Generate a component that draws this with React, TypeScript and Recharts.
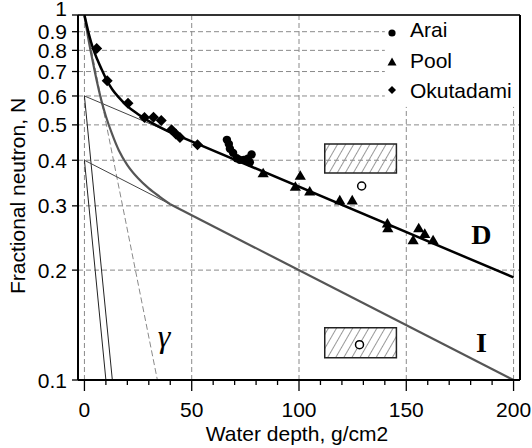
import React from 'react';
import {
  ComposedChart,
  Line,
  Scatter,
  XAxis,
  YAxis,
  ReferenceLine,
  ReferenceArea,
  ReferenceDot,
} from 'recharts';

const FONT = '"Liberation Sans", Arial, Helvetica, sans-serif';
const SERIF = '"Liberation Serif", "Times New Roman", serif';

// ---- axis ticks ----
const xMinorTicks = [0, 10, 20, 30, 40, 50, 60, 70, 80, 90, 100, 110, 120, 130, 140, 150, 160, 170, 180, 190, 200];
const xMajorTicks = [0, 50, 100, 150, 200];
const yTicks = [0.1, 0.2, 0.3, 0.4, 0.5, 0.6, 0.7, 0.8, 0.9, 1];
const xGridFull = [0, 50, 100];
const xGridShort = [150, 200];
const yGridFull = [0.2, 0.3, 0.4, 0.5];
const yGridShort = [0.6, 0.7, 0.8, 0.9];

// ---- measured data ----
const araiX = [66.4, 67.3, 67.8, 69.3, 71.0, 72.4, 74.3, 76.1, 77.1, 77.9];
const araiY = [0.455, 0.443, 0.430, 0.419, 0.405, 0.401, 0.401, 0.404, 0.395, 0.415];

const poolX = [83.3, 98.3, 100.6, 105.0, 119.0, 124.8, 141.2, 141.4, 153.2, 155.8, 158.6, 162.5];
const poolY = [0.368, 0.338, 0.362, 0.328, 0.310, 0.310, 0.268, 0.260, 0.241, 0.260, 0.251, 0.241];

const okuX = [5.7, 10.6, 20.3, 28.0, 32.2, 35.8, 40.6, 42.6, 44.5, 52.7];
const okuY = [0.81, 0.66, 0.573, 0.524, 0.525, 0.514, 0.485, 0.472, 0.462, 0.441];

// ---- curves (curved head + straight tail) ----
const dHeadX = [0, 2, 4, 6, 8, 10, 13, 16, 20, 25, 30, 40];
const dHeadY = [1, 0.89, 0.81, 0.755, 0.71, 0.67, 0.625, 0.595, 0.563, 0.535, 0.512, 0.477];
const dTailX = [40, 200];
const dTailY = [0.477, 0.191];

const iHeadX = [0, 2, 4, 6, 8, 10, 13, 16, 20, 25, 30, 35, 40];
const iHeadY = [1, 0.85, 0.74, 0.65, 0.58, 0.528, 0.47, 0.426, 0.388, 0.357, 0.335, 0.318, 0.303];
const iTailX = [40, 200];
const iTailY = [0.303, 0.1];

const dSlowX = [0, 40];
const dSlowY = [0.6, 0.477];
const iSlowX = [0, 40];
const iSlowY = [0.4, 0.303];
const dFastX = [0, 10];
const dFastY = [0.4, 0.1];
const iFastX = [0, 13];
const iFastY = [0.6, 0.1];
const gammaX = [0, 34];
const gammaY = [1, 0.1];

// ---- annotations ----
const boxUpper = { x1: 112, x2: 145.4, y1: 0.369, y2: 0.443 };
const boxLower = { x1: 112, x2: 145.4, y1: 0.115, y2: 0.139 };
const openPoints = [
  { x: 129.2, y: 0.34 },
  { x: 128.2, y: 0.125 },
];
const labelD = [{ x: 185, y: 0.236 }];
const labelI = [{ x: 185, y: 0.1193 }];
const labelGamma = [{ x: 37.1, y: 0.1231 }];

const legendNames = ['Arai', 'Pool', 'Okutadami'];

const zip = (xs: number[], ys: number[]) => xs.map((x, i) => ({ x, y: ys[i] }));

const araiData = zip(araiX, araiY);
const poolData = zip(poolX, poolY);
const okuData = zip(okuX, okuY);
const dHeadData = zip(dHeadX, dHeadY);
const dTailData = zip(dTailX, dTailY);
const iHeadData = zip(iHeadX, iHeadY);
const iTailData = zip(iTailX, iTailY);
const dSlowData = zip(dSlowX, dSlowY);
const iSlowData = zip(iSlowX, iSlowY);
const dFastData = zip(dFastX, dFastY);
const iFastData = zip(iFastX, iFastY);
const gammaData = zip(gammaX, gammaY);

const circleShape = (p: any) => <circle cx={p.cx} cy={p.cy} r={4.2} fill="#000" />;
const triShape = (p: any) => (
  <polygon
    points={`${p.cx},${p.cy - 5.8} ${p.cx - 5.6},${p.cy + 3.8} ${p.cx + 5.6},${p.cy + 3.8}`}
    fill="#000"
  />
);
const diamondShape = (p: any) => (
  <polygon
    points={`${p.cx},${p.cy - 5.5} ${p.cx + 5.5},${p.cy} ${p.cx},${p.cy + 5.5} ${p.cx - 5.5},${p.cy}`}
    fill="#000"
  />
);

const textShape = (txt: string, size: number, weight: string, italic: boolean) => (p: any) => (
  <text
    x={p.cx}
    y={p.cy}
    textAnchor="middle"
    fontFamily={SERIF}
    fontSize={size}
    fontWeight={weight}
    fontStyle={italic ? 'italic' : 'normal'}
    fill="#000"
  >
    {txt}
  </text>
);

function XTick(props: any) {
  const { x, y, payload } = props;
  const v = payload.value;
  const major = xMajorTicks.includes(v);
  return (
    <g>
      <line x1={x} x2={x} y1={y} y2={y + (major ? 11 : 5)} stroke="#000" strokeWidth={1.3} />
      {major && (
        <text x={x} y={y + 36.5} textAnchor="middle" fontSize={21} fontFamily={FONT} fill="#000">
          {String(v)}
        </text>
      )}
    </g>
  );
}

function YTick(props: any) {
  const { x, y, payload } = props;
  const v = payload.value;
  return (
    <g>
      <line x1={x - 6} x2={x} y1={y} y2={y} stroke="#000" strokeWidth={1.3} />
      <text
        x={x - 11}
        y={y + (v === 1 ? -6.5 : 0)}
        dy="0.36em"
        textAnchor="end"
        fontSize={21}
        fontFamily={FONT}
        fill="#000"
      >
        {String(v)}
      </text>
    </g>
  );
}

const gridStroke = '#8a8a8a';
const gridDash = '5 3';

const lineCommon = { dot: false, activeDot: false, isAnimationActive: false } as const;

export default function App() {
  return (
    <div style={{ position: 'absolute', left: 0, top: 0, width: 532, height: 448, background: '#fff' }}>
      <ComposedChart
        width={532}
        height={448}
        margin={{ top: 15, right: 12, bottom: 0, left: 0 }}
      >
        <defs>
          <pattern
            id="hatch"
            patternUnits="userSpaceOnUse"
            width="7"
            height="7"
            patternTransform="rotate(30)"
          >
            <line x1="0" y1="0" x2="0" y2="7" stroke="#333" strokeWidth="1" />
          </pattern>
        </defs>
        <XAxis
          type="number"
          dataKey="x"
          domain={[-3, 203]}
          allowDataOverflow
          ticks={xMinorTicks}
          interval={0}
          tickSize={0}
          tickMargin={0}
          tickLine={false}
          tick={<XTick />}
          height={68}
          axisLine={{ stroke: '#000', strokeWidth: 2 }}
        />
        <YAxis
          type="number"
          dataKey="y"
          scale="log"
          domain={[0.1, 1]}
          allowDataOverflow
          ticks={yTicks}
          interval={0}
          tickSize={0}
          tickMargin={0}
          tickLine={false}
          tick={<YTick />}
          width={78}
          axisLine={{ stroke: '#000', strokeWidth: 2 }}
        />

        {xGridFull.map((v) => (
          <ReferenceLine key={'gx' + v} x={v} stroke={gridStroke} strokeDasharray={gridDash} strokeWidth={1} ifOverflow="visible" />
        ))}
        {xGridShort.map((v) => (
          <ReferenceLine
            key={'gxs' + v}
            segment={[{ x: v, y: 0.1 }, { x: v, y: 0.56 }]}
            stroke={gridStroke}
            strokeDasharray={gridDash}
            strokeWidth={1}
            ifOverflow="visible"
          />
        ))}
        {yGridFull.map((v) => (
          <ReferenceLine key={'gy' + v} y={v} stroke={gridStroke} strokeDasharray={gridDash} strokeWidth={1} ifOverflow="visible" />
        ))}
        {yGridShort.map((v) => (
          <ReferenceLine
            key={'gys' + v}
            segment={[{ x: -3, y: v }, { x: 140, y: v }]}
            stroke={gridStroke}
            strokeDasharray={gridDash}
            strokeWidth={1}
            ifOverflow="visible"
          />
        ))}
        <ReferenceLine y={1} stroke="#333" strokeWidth={2} ifOverflow="visible" />
        <ReferenceLine x={203} stroke="#000" strokeWidth={2} ifOverflow="visible" />

        <ReferenceArea {...boxUpper} fill="url(#hatch)" fillOpacity={1} stroke="#222" strokeWidth={1.5} ifOverflow="visible" />
        <ReferenceArea {...boxLower} fill="url(#hatch)" fillOpacity={1} stroke="#222" strokeWidth={1.5} ifOverflow="visible" />

        <Line data={gammaData} dataKey="y" type="linear" stroke="#8a8a8a" strokeWidth={1} strokeDasharray="6 3" {...lineCommon} />
        <Line data={dFastData} dataKey="y" type="linear" stroke="#222" strokeWidth={1} {...lineCommon} />
        <Line data={iFastData} dataKey="y" type="linear" stroke="#222" strokeWidth={1} {...lineCommon} />
        <Line data={dSlowData} dataKey="y" type="linear" stroke="#444" strokeWidth={1} {...lineCommon} />
        <Line data={iSlowData} dataKey="y" type="linear" stroke="#444" strokeWidth={1} {...lineCommon} />
        <Line data={iHeadData} dataKey="y" type="monotone" stroke="#555" strokeWidth={2.2} {...lineCommon} />
        <Line data={iTailData} dataKey="y" type="linear" stroke="#555" strokeWidth={2.2} {...lineCommon} />
        <Line data={dHeadData} dataKey="y" type="monotone" stroke="#000" strokeWidth={2.5} {...lineCommon} />
        <Line data={dTailData} dataKey="y" type="linear" stroke="#000" strokeWidth={2.5} {...lineCommon} />

        <Scatter name="Arai" data={araiData} dataKey="y" shape={circleShape} isAnimationActive={false} />
        <Scatter name="Pool" data={poolData} dataKey="y" shape={triShape} isAnimationActive={false} />
        <Scatter name="Okutadami" data={okuData} dataKey="y" shape={diamondShape} isAnimationActive={false} />

        {openPoints.map((p, i) => (
          <ReferenceDot key={'op' + i} x={p.x} y={p.y} r={4} fill="#fff" stroke="#000" strokeWidth={1.5} ifOverflow="visible" />
        ))}

        <Scatter data={labelD} dataKey="y" shape={textShape('D', 28, 'bold', false)} isAnimationActive={false} />
        <Scatter data={labelI} dataKey="y" shape={textShape('I', 28, 'bold', false)} isAnimationActive={false} />
        <Scatter data={labelGamma} dataKey="y" shape={textShape('γ', 32, 'normal', true)} isAnimationActive={false} />

        {/* legend */}
        <g>
          <circle cx={392} cy={33} r={3.6} fill="#000" />
          <polygon points="392,57.5 387.5,65.5 396.5,65.5" fill="#000" />
          <polygon points="392,86 396,90 392,94 388,90" fill="#000" />
          <text x={410} y={37} fontSize={21} fontFamily={FONT} fill="#000">{legendNames[0]}</text>
          <text x={410} y={68} fontSize={21} fontFamily={FONT} fill="#000">{legendNames[1]}</text>
          <text x={410} y={98} fontSize={21} fontFamily={FONT} fill="#000">{legendNames[2]}</text>
        </g>

        {/* axis titles */}
        <text x={297} y={441} textAnchor="middle" fontSize={21} fontFamily={FONT} fill="#000">
          Water depth, g/cm2
        </text>
        <text
          transform="translate(25,196) rotate(-90)"
          textAnchor="middle"
          fontSize={21}
          fontFamily={FONT}
          fill="#000"
        >
          Fractional neutron, N
        </text>
      </ComposedChart>
    </div>
  );
}
